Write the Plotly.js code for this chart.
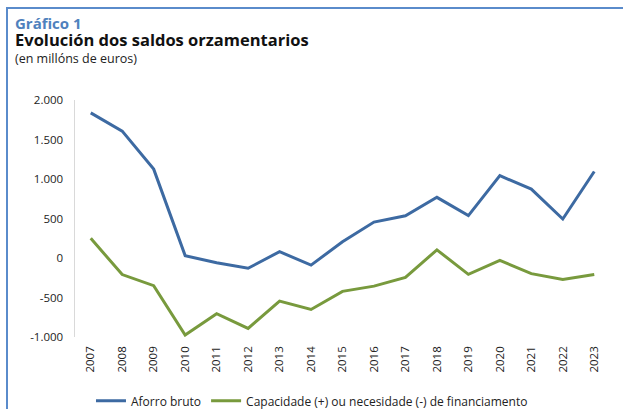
<!DOCTYPE html>
<html>
<head>
<meta charset="utf-8">
<script src="https://cdn.plot.ly/plotly-3.0.1.min.js"></script>
<style>
html,body{margin:0;padding:0;background:#fff;}
#wrap{position:relative;width:623px;height:409px;overflow:hidden;}
#chart{position:absolute;left:0;top:0;width:623px;height:409px;}
#frame{position:absolute;left:6px;top:7px;right:-4px;bottom:-4px;border-left:2px solid #5a8bcb;border-top:2px solid #5a8bcb;pointer-events:none;}
</style>
</head>
<body>
<div id="wrap"><div id="chart"></div><div id="frame"></div></div>
<script>
const years = ['2007','2008','2009','2010','2011','2012','2013','2014','2015','2016','2017','2018','2019','2020','2021','2022','2023'];
const aforroBruto = [1837, 1606, 1125, 30, -60, -130, 80, -90, 205, 455, 535, 768, 537, 1042, 872, 494, 1095];
const capacidade = [250, -210, -350, -975, -705, -892, -545, -652, -422, -356, -245, 103, -207, -30, -198, -272, -210];
const yTickVals = [-1000, -500, 0, 500, 1000, 1500, 2000];
const yTickText = ['-1.000', '-500', '0', '500', '1.000', '1.500', '2.000'];
const seriesNames = ['Aforro bruto', 'Capacidade (+) ou necesidade (-) de financiamento'];
const chartLabel = 'Gráfico 1';
const chartTitle = 'Evolución dos saldos orzamentarios';
const chartSubtitle = '(en millóns de euros)';

const W = 623, H = 409;
const plotL = 75, plotR = 610.5, plotT = 99.5, plotB = 337;
const px = x => (x - plotL) / (plotR - plotL);
const py = y => (plotB - y) / (plotB - plotT);
const FONT = '"Open Sans", Lato, sans-serif';

const traces = [
  {x: years, y: aforroBruto, name: seriesNames[0], type: 'scatter', mode: 'lines',
   line: {color: '#3d6aa2', width: 3}, xaxis: 'x', yaxis: 'y'},
  {x: years, y: capacidade, name: seriesNames[1], type: 'scatter', mode: 'lines',
   line: {color: '#789a3d', width: 3}, xaxis: 'x', yaxis: 'y'}
];

const headerText =
  '<span style="font-size:15px;color:#4f81bd"><b>' + chartLabel + '</b></span><br>' +
  '<span style="font-size:16.5px;color:#111"><b>' + chartTitle + '</b></span><br>' +
  '<span style="font-size:12.5px;color:#222">' + chartSubtitle + '</span>';

const layout = {
  width: W, height: H,
  margin: {l: plotL, r: W - plotR, t: plotT, b: H - plotB, pad: 0, autoexpand: false},
  paper_bgcolor: '#ffffff', plot_bgcolor: 'rgba(0,0,0,0)',
  font: {family: FONT, size: 11, color: '#222'},
  showlegend: true,
  legend: {orientation: 'h', x: px(91), xanchor: 'left', y: py(401), yanchor: 'middle',
           font: {size: 12, color: '#222', family: FONT},
           bgcolor: 'rgba(0,0,0,0)', tracegroupgap: 0},
  xaxis: {type: 'category', range: [-0.5, years.length - 0.5], showgrid: false, zeroline: false,
          showline: false, ticks: '', tickangle: -90, tickfont: {size: 11.5, color: '#222'},
          ticklabelstandoff: 6, fixedrange: true, automargin: false},
  xaxis2: {type: 'linear', overlaying: 'x', anchor: 'free', position: py(257.7), side: 'bottom',
           range: [-0.5, years.length - 0.5], tick0: -0.5, dtick: 1, showticklabels: false,
           ticks: 'inside', ticklen: 3, tickcolor: '#bfbfbf', tickwidth: 1,
           showline: true, linecolor: '#bfbfbf', linewidth: 1.5, showgrid: false, zeroline: false,
           automargin: false},
  yaxis: {range: [-1000, 2000], tickvals: yTickVals, ticktext: yTickText, showgrid: false,
          zeroline: false, showline: true, linecolor: '#d9d9d9', linewidth: 1.5, ticks: '',
          tickfont: {size: 11.5, color: '#222'}, ticklabelstandoff: 8, fixedrange: true, automargin: false},
  annotations: [
    {text: headerText, xref: 'paper', yref: 'paper', x: px(13), y: py(39.5),
     xanchor: 'left', yanchor: 'middle', align: 'left', showarrow: false,
     font: {size: 13, color: '#111', family: FONT}}
  ]
};

Plotly.newPlot('chart', traces, layout, {staticPlot: true, displayModeBar: false});
</script>
</body>
</html>
